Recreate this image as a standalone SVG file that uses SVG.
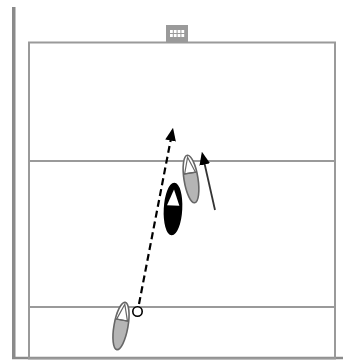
<svg xmlns="http://www.w3.org/2000/svg" width="343" height="360" viewBox="0 0 343 360">
<style>
.court{fill:none;stroke:#9a9a9a;stroke-width:2}
.pg{fill:#b5b5b5}
.po{fill:none;stroke:#666;stroke-width:1.6}
.pl{stroke:#666;stroke-width:1.2;fill:none}
</style>
<defs>
<marker id="ah" viewBox="0 0 12 10" refX="9" refY="5" markerWidth="13" markerHeight="11" markerUnits="userSpaceOnUse" orient="auto">
<path d="M0,0 L12,5 L0,10 z" fill="#000"/>
</marker>
<clipPath id="pc" clipPathUnits="userSpaceOnUse"><ellipse cx="0" cy="0" rx="7" ry="24"/></clipPath>
</defs>
<rect width="343" height="360" fill="#fff"/>
<g id="court">
<rect x="12" y="7" width="3.5" height="352" fill="#8a8a8a"/>
<line x1="12" y1="358" x2="343" y2="358" stroke="#8a8a8a" stroke-width="2.5"/>
<rect class="court" x="29" y="42.5" width="306" height="316"/>
<line class="court" x1="29" y1="161" x2="335" y2="161"/>
<line class="court" x1="29" y1="307" x2="335" y2="307"/>
</g>
<g id="goal">
<rect x="166" y="25" width="22" height="17" fill="#9a9a9a"/>
<g fill="#fff">
<rect x="170" y="30" width="2.8" height="3"/><rect x="173.8" y="30" width="2.8" height="3"/><rect x="177.6" y="30" width="2.8" height="3"/><rect x="181.4" y="30" width="2.8" height="3"/>
<rect x="170" y="34" width="2.8" height="3"/><rect x="173.8" y="34" width="2.8" height="3"/><rect x="177.6" y="34" width="2.8" height="3"/><rect x="181.4" y="34" width="2.8" height="3"/>
</g>
</g>
<g id="connectors">
<line x1="139" y1="304" x2="172.4" y2="131" stroke="#000" stroke-width="2.2" stroke-dasharray="7,4" marker-end="url(#ah)"/>
<line x1="215" y1="210" x2="202.6" y2="155" stroke="#333" stroke-width="1.8" marker-end="url(#ah)"/>
</g>
<g id="player-left" transform="translate(121,326) rotate(10)">
<ellipse class="pg" rx="7" ry="24"/>
<rect x="-8" y="-25" width="16" height="19" fill="#fff" clip-path="url(#pc)"/>
<polygon class="pl" points="0,-22 -5.5,-6 5.5,-6"/>
<line class="pl" x1="-8" y1="-6" x2="8" y2="-6" clip-path="url(#pc)"/>
<ellipse class="po" rx="7" ry="24"/>
</g>
<g id="ball">
<circle cx="137.5" cy="311.5" r="4.7" fill="#fff" stroke="#000" stroke-width="1.6"/>
</g>
<g id="player-right" transform="translate(191,179) rotate(-9)">
<ellipse class="pg" rx="7" ry="24"/>
<rect x="-8" y="-25" width="16" height="19" fill="#fff" clip-path="url(#pc)"/>
<polygon class="pl" points="0,-22 -5.5,-6 5.5,-6"/>
<line class="pl" x1="-8" y1="-6" x2="8" y2="-6" clip-path="url(#pc)"/>
<ellipse class="po" rx="7" ry="24"/>
</g>
<g id="player-black" transform="translate(173,209) rotate(3)">
<ellipse rx="8.5" ry="25.5" fill="#000" stroke="#000" stroke-width="1.5"/>
<polygon points="0,-19.5 -6.2,-3.5 6.2,-3.5" fill="#fff"/>
</g>
</svg>
